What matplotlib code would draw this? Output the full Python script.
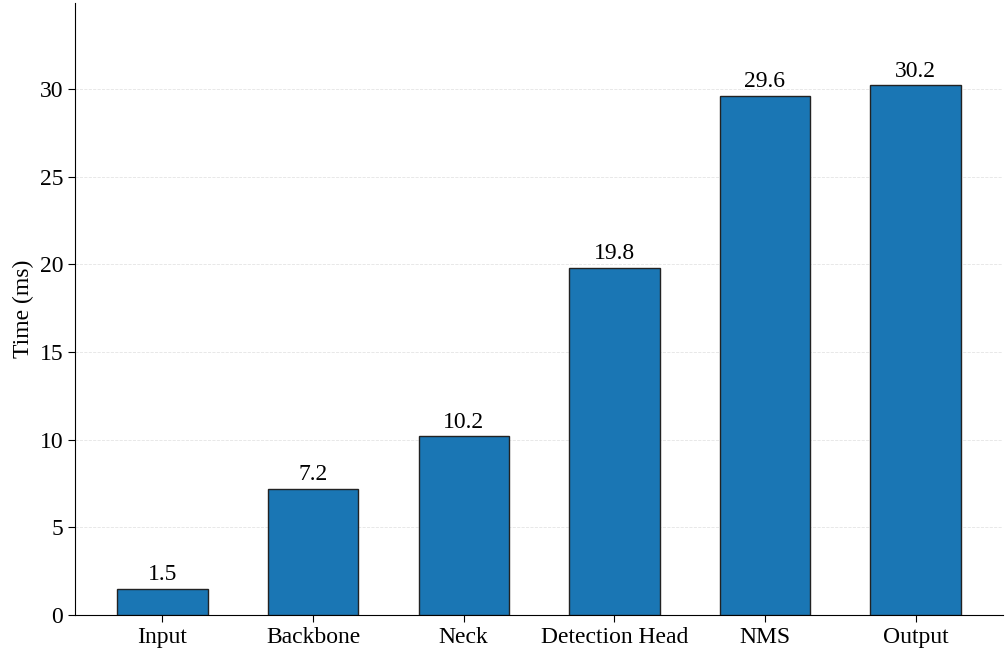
import numpy as np
import matplotlib.pyplot as plt

stages = ["Input", "Backbone", "Neck", "Detection Head", "NMS", "Output"]
times = [1.5, 7.2, 10.2, 19.8, 29.6, 30.2]

plt.rcParams['font.family'] = ['Liberation Serif', 'DejaVu Serif']
plt.rcParams['font.size'] = 17

fig = plt.figure(figsize=(10.06, 6.56), dpi=100)
ax = fig.add_axes([0.0746, 0.0625, 0.9224, 0.933])

x = np.arange(len(stages))
bars = ax.bar(x, times, width=0.6, color='#1a76b4', edgecolor='#222222', linewidth=1.0, zorder=3)

# 数值标签
for b, v in zip(bars, times):
    ax.text(b.get_x() + b.get_width() / 2, v + 0.2, f"{v:.1f}",
            ha='center', va='bottom', fontsize=17)

ax.set_xticks(x)
ax.set_xticklabels(stages)
ax.set_ylabel("Time (ms)")
ax.set_ylim(0, 34.9)
ax.tick_params(length=5)
ax.yaxis.grid(True, linestyle='--', color='#dddddd', linewidth=0.6, alpha=0.8, zorder=0)
ax.spines['top'].set_visible(False)
ax.spines['right'].set_visible(False)

fig.savefig("out.png", dpi=100)
